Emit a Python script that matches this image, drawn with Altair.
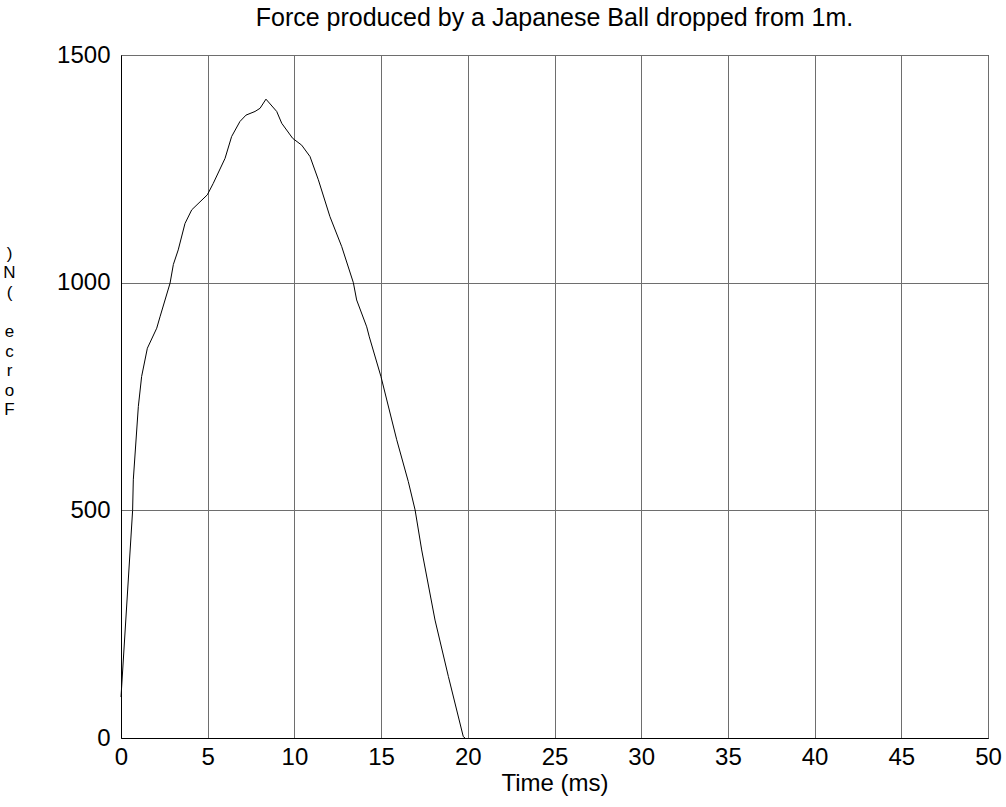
import altair as alt
import pandas as pd

time_ms = [0, 0.67, 0.71, 1.0, 1.19, 1.52, 2.06, 2.25, 2.83, 3.02, 3.3, 3.69, 4.08,
           4.98, 5.32, 6.0, 6.38, 6.86, 7.21, 7.73, 8.02, 8.36, 8.98, 9.27, 9.9,
           10.42, 10.9, 11.38, 12.05, 12.73, 13.4, 13.59, 14.17, 14.32, 14.99,
           15.9, 16.57, 16.96, 17.34, 18.11, 18.88, 19.74, 19.84]
force_n = [90, 500, 567, 728, 794, 856, 900, 925, 999, 1040, 1072, 1130, 1160,
           1193, 1218, 1273, 1321, 1354, 1368, 1376, 1383, 1403, 1376, 1350, 1317,
           1302, 1277, 1226, 1145, 1079, 1000, 962, 903, 881, 794,
           655, 563, 501, 413, 259, 135, 3, 0]
x_ticks = [0, 5, 10, 15, 20, 25, 30, 35, 40, 45, 50]
y_ticks = [0, 500, 1000, 1500]
y_title_lines = [")", "N", "(", "\u200b", "e", "c", "r", "o", "F"]
title_text = "Force produced by a Japanese Ball dropped from 1m."

df = pd.DataFrame({"t": time_ms, "f": force_n, "order": list(range(len(time_ms)))})

FONT = "Liberation Sans"
FS = 24

chart = alt.Chart(df).mark_line(color="#000000", strokeWidth=1).encode(
    x=alt.X("t:Q", scale=alt.Scale(domain=[0, 50], nice=False),
            axis=alt.Axis(values=x_ticks, title="Time (ms)", ticks=False,
                          labelFlush=False, labelPadding=7, titlePadding=2,
                          format="d")),
    y=alt.Y("f:Q", scale=alt.Scale(domain=[0, 1500], nice=False),
            axis=alt.Axis(values=y_ticks, title=y_title_lines, titleAngle=0,
                          titleAlign="center", titleBaseline="top",
                          titleX=-112, titleY=190, titleLineHeight=19.6,
                          titleFontSize=17,
                          labelFlush=False, ticks=False, labelPadding=11,
                          format="d")),
    order="order:Q",
).properties(
    width=867, height=683,
    title=alt.TitleParams(title_text, fontSize=25, font=FONT, fontWeight="normal",
                          anchor="middle", offset=12, color="#000000"),
    padding={"left": 121, "top": 55, "right": 18, "bottom": 69},
    autosize=alt.AutoSizeParams(type="none"),
    background="white",
).configure_axis(
    labelFont=FONT, titleFont=FONT, labelFontSize=FS, titleFontSize=FS,
    labelColor="#000000", titleColor="#000000", titleFontWeight="normal",
    grid=True, gridColor="#6e6e6e", gridOpacity=1, gridWidth=1,
    domainColor="#000000", domainWidth=1,
).configure_view(
    stroke="#000000", strokeWidth=1,
)

chart.save("out.html", embed_options={"renderer": "svg", "actions": False})
